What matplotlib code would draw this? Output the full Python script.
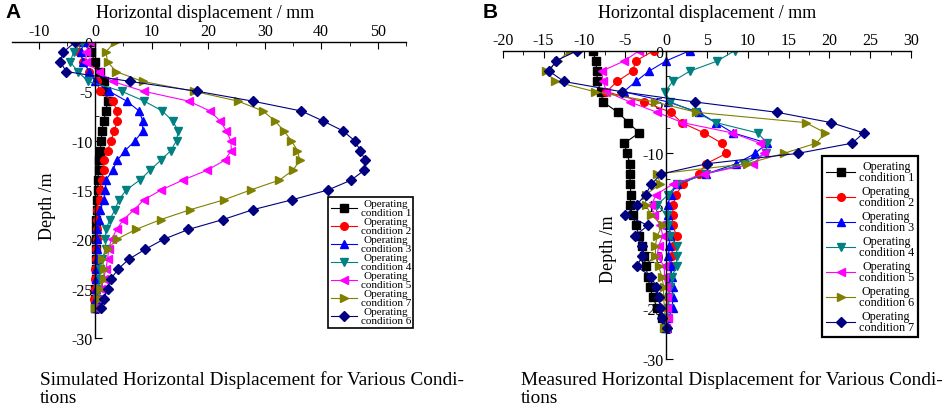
import numpy as np
from matplotlib import pyplot as plt
from matplotlib.ticker import MultipleLocator

plt.rcParams['font.family'] = ['Liberation Serif', 'DejaVu Serif']
plt.rcParams['axes.unicode_minus'] = False

# depth of each reading point (m)
DEPTH = [0, -1, -2, -3, -4, -5, -6, -7, -8, -9, -10, -11, -12, -13,
         -14, -15, -16, -17, -18, -19, -20, -21, -22, -23, -24, -25, -26, -27]

# simulated horizontal displacement (mm), panel A
SIM_1 = [-0.9, -0.7, -0.1, 0.8, 1.6, 1.9, 2.2, 1.9, 1.5, 1.2, 1.1, 0.9, 0.7, 0.6,
         0.5, 0.5, 0.3, 0.3, 0.2, 0.1, 0.1, 0.1, 0.1, 0.1, 0.1, 0.0, 0.0, 0.0]
SIM_2 = [-2.6, -2.8, -2.1, -1.0, 0.3, 0.8, 3.1, 3.9, 3.9, 3.4, 2.8, 2.2, 1.6, 1.5,
         1.2, 0.8, 0.6, 0.3, 0.3, 0.3, 0.3, 0.2, 0.2, 0.0, 0.0, -0.1, -0.2, -0.1]
SIM_3 = [-2.0, -2.5, -2.2, -1.0, 0.0, 2.5, 5.6, 7.8, 8.4, 8.4, 7.1, 5.3, 3.9, 3.1,
         1.9, 1.8, 1.5, 0.9, 0.6, 0.4, 0.3, 0.3, 0.3, 0.2, 0.2, 0.1, 0.1, 0.0]
SIM_4 = [-2.4, -3.8, -4.4, -3.1, -1.2, 4.7, 8.7, 11.9, 13.7, 14.7, 14.4, 13.4, 11.6, 9.7,
         7.9, 5.5, 4.2, 3.5, 2.6, 1.9, 1.8, 1.9, 1.2, 0.9, 0.8, 0.5, 0.3, -0.1]
SIM_5 = [-0.8, -1.6, -1.6, 0.6, 3.1, 8.6, 16.6, 20.3, 22.1, 23.2, 24.0, 24.1, 22.9, 19.8,
         15.5, 11.7, 8.6, 6.9, 5.0, 3.8, 2.9, 2.4, 2.2, 1.9, 1.5, 1.1, 0.6, 0.2]
SIM_7 = [3.5, 1.9, 2.2, 3.7, 8.4, 17.5, 25.3, 29.7, 31.8, 33.4, 34.7, 35.8, 36.2, 35.0,
         32.6, 27.5, 22.8, 16.8, 11.6, 7.2, 3.8, 2.2, 1.2, 1.6, 1.5, 0.9, 0.6, 0.0]
SIM_6 = [-3.5, -5.6, -6.2, -5.1, 6.2, 18.1, 27.9, 36.5, 40.3, 43.8, 45.9, 46.9, 47.8, 47.6,
         45.3, 41.2, 34.8, 27.9, 22.6, 16.5, 12.1, 8.9, 6.0, 4.1, 2.8, 2.2, 1.6, 1.1]
SIM_LABELS = ["Operating\ncondition 1", "Operating\ncondition 2", "Operating\ncondition 3",
              "Operating\ncondition 4", "Operating\ncondition 5", "Operating\ncondition 7",
              "Operating\ncondition 6"]

# measured horizontal displacement (mm), panel B
MEAS_1 = [-9.0, -8.6, -8.5, -8.4, -8.0, -7.7, -5.9, -4.6, -3.3, -5.1, -4.8, -4.4, -4.4, -4.4,
          -4.3, -4.4, -4.1, -3.7, -3.3, -2.9, -2.7, -2.5, -2.2, -2.0, -1.6, -1.1, -0.5, -0.1]
MEAS_2 = [-1.5, -3.7, -4.1, -6.0, -7.3, -2.7, 0.6, 1.9, 4.65, 6.8, 7.4, 4.9, 4.0, 2.1,
          1.2, 0.9, 0.8, 0.8, 1.3, 0.8, 0.7, 0.6, 0.5, 0.4, 0.3, 0.2, 0.2, 0.1]
MEAS_3 = [2.9, 0.0, -2.1, -3.7, -5.2, 0.3, 4.0, 6.1, 8.2, 12.4, 10.9, 8.6, 4.9, 1.3,
          0.6, 0.2, 0.3, 0.4, 0.5, 0.4, 0.3, 0.6, 0.7, 0.8, 0.8, 0.8, 0.3, 0.1]
MEAS_4 = [8.4, 6.3, 2.9, 0.8, -0.1, 0.5, 3.7, 6.1, 11.2, 12.4, 12.2, 9.6, 4.9, 1.3,
          0.3, -1.1, 0.1, 0.3, 0.5, 1.3, 1.3, 1.3, 0.7, 0.5, 0.4, 0.3, 0.1, -0.1]
MEAS_5 = [-3.3, -5.1, -7.9, -7.7, -7.3, -4.4, -1.1, 2.0, 8.1, 11.5, 12.0, 10.7, 4.6, 0.8,
          -1.2, -1.8, -1.5, -0.7, -0.4, -0.9, -1.1, -0.2, -0.2, 0.0, 0.1, 0.1, 0.3, 0.0]
MEAS_6 = [-11.8, -13.2, -14.7, -13.6, -8.7, -1.3, 3.7, 17.1, 19.5, 18.4, 14.4, 9.9, -1.1, -0.7,
          -2.5, -2.5, -1.8, -0.4, -1.1, -1.3, -1.3, -0.9, -0.5, -0.3, -0.3, -0.2, -0.1, -0.2]
MEAS_7 = [-10.9, -13.5, -14.3, -12.5, -5.4, 3.6, 13.6, 20.2, 24.2, 22.8, 16.1, 5.0, -0.6, -1.8,
          -2.5, -3.6, -5.0, -2.2, -3.8, -2.9, -2.9, -3.6, -1.8, -1.2, -0.9, -0.7, -0.5, 0.1]
MEAS_LABELS = ["Operating\ncondition %d" % i for i in range(1, 8)]

# colour / marker per curve, in drawing order
COLORS = ['#000000', '#FF0000', '#0000FF', '#008080', '#FF00FF', '#808000', '#000080']
MARKERS = ['s', 'o', '^', 'v', '<', '>', 'D']


def draw_panel(ax, series, labels, xlim, xmajor, xminor):
    for i, x in enumerate(series):
        ms = 4.8 if MARKERS[i] == 'D' else 5.5
        ax.plot(x, DEPTH, color=COLORS[i], marker=MARKERS[i], markersize=ms,
                linewidth=0.8, label=labels[i])

    ax.set_xlim(*xlim)
    ax.set_ylim(-30, 0)
    ax.xaxis.set_major_locator(MultipleLocator(xmajor))
    ax.xaxis.set_minor_locator(MultipleLocator(xminor))
    ax.yaxis.set_major_locator(MultipleLocator(5))
    ax.yaxis.set_minor_locator(MultipleLocator(2.5))

    ax.xaxis.tick_top()
    ax.xaxis.set_label_position('top')
    ax.spines['left'].set_position(('data', 0))
    ax.spines['right'].set_visible(False)
    ax.spines['bottom'].set_visible(False)
    for s in ['left', 'top']:
        ax.spines[s].set_linewidth(1.0)
    ax.tick_params(which='both', direction='in', labelsize=11.5, pad=2)
    ax.tick_params(which='major', length=5)
    ax.tick_params(which='minor', length=3)
    ax.patch.set_alpha(0)

    ax.set_xlabel("Horizontal displacement / mm", fontsize=13)
    ax.set_ylabel("Depth /m", fontsize=13)
    ax.xaxis.label.set_va('center')
    ax.yaxis.label.set_va('center')


fig = plt.figure(figsize=(9.48, 4.10), dpi=100)

# panel A
axA = fig.add_axes([0.0127, 0.1732, 0.4156, 0.7220])
draw_panel(axA, [SIM_1, SIM_2, SIM_3, SIM_4, SIM_5, SIM_7, SIM_6], SIM_LABELS,
           (-14.7, 55), 10, 5)
axA.xaxis.set_label_coords(0.49, 1.10)
axA.yaxis.set_label_coords(0.09, 0.45)
legA = axA.legend(loc='upper right', bbox_to_anchor=(1.018, 0.476), borderaxespad=0,
                  fontsize=8.0, labelspacing=0.0, handlelength=2.4, handletextpad=0.3,
                  borderpad=0.2, fancybox=False, edgecolor='black', framealpha=1)
legA.get_frame().set_linewidth(1.2)
for t in legA.get_texts():
    t.set_multialignment('center')
    t.set_linespacing(1.0)

# panel B
axB = fig.add_axes([0.5303, 0.1220, 0.4307, 0.7520])
draw_panel(axB, [MEAS_1, MEAS_2, MEAS_3, MEAS_4, MEAS_5, MEAS_6, MEAS_7], MEAS_LABELS,
           (-20, 30), 5, 2.5)
axB.xaxis.set_label_coords(0.50, 1.125)
axB.yaxis.set_label_coords(0.258, 0.36)
legB = axB.legend(loc='upper right', bbox_to_anchor=(1.016, 0.658), borderaxespad=0,
                  fontsize=8.7, labelspacing=0.12, handlelength=2.4, handletextpad=0.3,
                  borderpad=0.3, fancybox=False, edgecolor='black', framealpha=1)
legB.get_frame().set_linewidth(1.6)
for t in legB.get_texts():
    t.set_multialignment('center')
    t.set_linespacing(0.95)

# panel letters
fig.text(5 / 948, 1 - 13 / 410, "A", family='Liberation Sans', fontweight='bold',
         fontsize=15, va='center')
fig.text(483 / 948, 1 - 13 / 410, "B", family='Liberation Sans', fontweight='bold',
         fontsize=15, va='center')

# captions
fig.text(40 / 948, 1 - 371 / 410,
         "Simulated Horizontal Displacement for Various Condi-\ntions",
         fontsize=13.9, va='top', linespacing=1.1)
fig.text(521 / 948, 1 - 371 / 410,
         "Measured Horizontal Displacement for Various Condi-\ntions",
         fontsize=13.9, va='top', linespacing=1.1)

fig.savefig("out.png", dpi=100)
